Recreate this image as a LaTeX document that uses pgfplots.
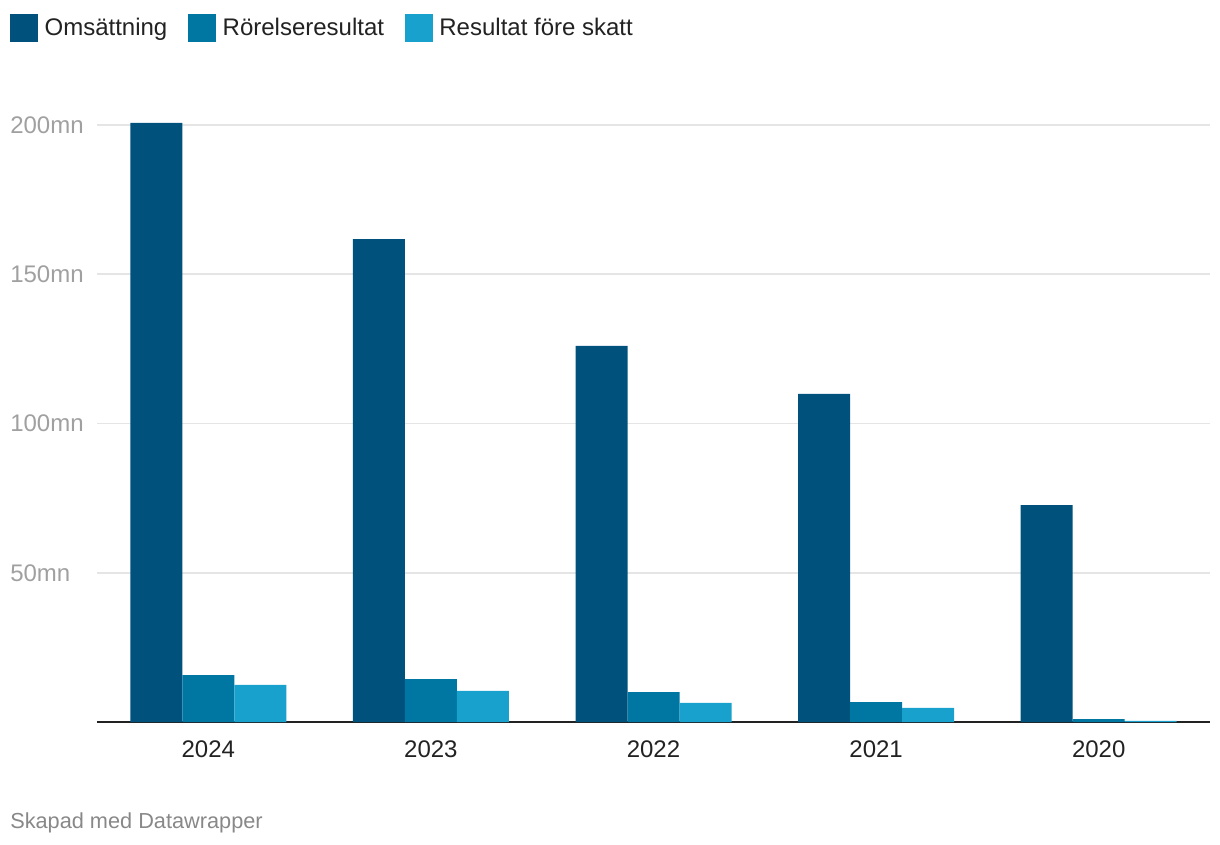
\documentclass[border=0pt]{standalone}
\usepackage{pgfplots}
\pgfplotsset{compat=1.18}
\usepackage{fontspec}
\setmainfont{Liberation Sans}

\definecolor{oms}{HTML}{00527C}
\definecolor{ror}{HTML}{0076A2}
\definecolor{res}{HTML}{19A1CD}
\definecolor{tickgray}{HTML}{A0A0A0}
\definecolor{gridgray}{HTML}{E5E5E5}
\definecolor{ink}{HTML}{222222}

\begin{document}
\begin{tikzpicture}
\path[use as bounding box] (0pt,0pt) rectangle (915pt,633pt);
\begin{axis}[
  at={(72.75pt,91.5pt)}, anchor=south west,
  scale only axis,
  width=834.75pt, height=470.1pt,
  xmin=-0.5, xmax=4.5,
  ymin=0, ymax=210,
  ybar, bar width=0.2336,
  xtick={0,1,2,3,4},
  xticklabels={2024,2023,2022,2021,2020},
  ytick={50,100,150,200},
  yticklabel={\pgfmathprintnumber{\tick}mn},
  /pgf/number format/assume math mode=true,
  axis x line*=bottom,
  axis y line*=left,
  x axis line style={draw=ink, line width=1.7pt, -},
  y axis line style={draw=none},
  major tick length=0pt,
  ymajorgrids,
  major grid style={draw=gridgray, line width=1.2pt},
  xticklabel style={font=\fontsize{18}{20}\selectfont, text=ink, inner sep=0pt, anchor=north, yshift=-13.5pt},
  yticklabel style={font=\fontsize{18}{20}\selectfont, text=tickgray, inner sep=0pt, anchor=west, xshift=-65.25pt},
  legend columns=3,
  legend style={draw=none, fill=none, inner sep=0pt, outer sep=0pt,
    at={(rel axis cs:-0.0782,1.108)}, anchor=west,
    font=\fontsize{18}{20}\selectfont, text=ink,
    /tikz/every even column/.append style={column sep=13.5pt}},
  legend image code/.code={\fill[#1] (0pt,-10.5pt) rectangle (21pt,10.5pt); \path (24pt,0pt);},
  clip=false,
]
\addplot[fill=oms, draw=none, bar shift=-0.2336] coordinates {
  (0,200.7) (1,161.8) (2,126.0) (3,109.9) (4,72.7)};
\addplot[fill=ror, draw=none, bar shift=0] coordinates {
  (0,15.7) (1,14.4) (2,10.0) (3,6.7) (4,1.0)};
\addplot[fill=res, draw=none, bar shift=0.2336] coordinates {
  (0,12.4) (1,10.4) (2,6.4) (3,4.7) (4,0.4)};
\legend{Omsättning,Rörelseresultat,Resultat före skatt}
\end{axis}
\node[anchor=west, inner sep=0pt, text=tickgray!85!black, font=\fontsize{16.3}{18}\selectfont] at (7.5pt,16pt) {Skapad med Datawrapper};
\end{tikzpicture}
\end{document}
